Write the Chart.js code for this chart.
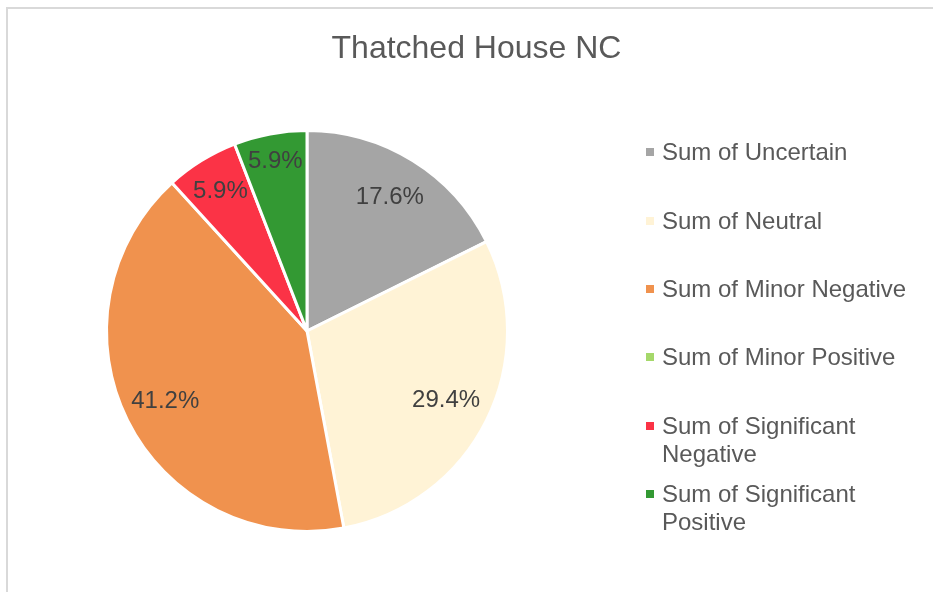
<!DOCTYPE html>
<html>
<head>
<meta charset="utf-8">
<script src="https://cdn.jsdelivr.net/npm/chart.js@4/dist/chart.umd.min.js"></script>
<style>
  html, body { margin: 0; padding: 0; background: #fff; overflow: hidden; }
  #wrap { position: relative; width: 933px; height: 592px; font-family: "Liberation Sans", Arial, sans-serif; }
  #frame { position: absolute; left: 6px; top: 7px; width: 1000px; height: 1000px; border: 2px solid #d9d9d9; box-sizing: border-box; }
  #title { position: absolute; left: 0; top: 27px; width: 953px; text-align: center; font-size: 32px; color: #595959; line-height: 40px; }
  #chart { position: absolute; left: 0; top: 0; }
  .item { position: absolute; left: 646px; font-size: 24px; line-height: 28px; color: #595959; }
  .item .sw { position: absolute; left: 0; top: 10px; width: 8px; height: 8px; }
  .item .tx { margin-left: 16px; width: 280px; white-space: nowrap; }
</style>
</head>
<body>
<div id="wrap">
  <div id="frame"></div>
  <canvas id="chart" width="933" height="592"></canvas>
  <div id="title"></div>
  <div id="legend"></div>
</div>
<script>
const chartTitle = "Thatched House NC";
const categories = [
  "Sum of Uncertain",
  "Sum of Neutral",
  "Sum of Minor Negative",
  "Sum of Minor Positive",
  "Sum of Significant Negative",
  "Sum of Significant Positive"
];
const counts = [3, 5, 7, 0, 1, 1];
const percentLabels = ["17.6%", "29.4%", "41.2%", "", "5.9%", "5.9%"];
const legendLines = [
  ["Sum of Uncertain"],
  ["Sum of Neutral"],
  ["Sum of Minor Negative"],
  ["Sum of Minor Positive"],
  ["Sum of Significant", "Negative"],
  ["Sum of Significant", "Positive"]
];
const sliceColors = ["#a5a5a5", "#fff3d6", "#f0924e", "#a5d86a", "#fb3346", "#339933"];

// distance of each percentage label from the centre, as a share of the radius
const labelRadius = [0.785, 0.775, 0.79, 0.8, 0.82, 0.86];
// legend row tops (px)
const legendTops = [138, 207, 275, 343, 412, 480];

document.getElementById("title").textContent = chartTitle;

const legendEl = document.getElementById("legend");
categories.forEach((c, i) => {
  const row = document.createElement("div");
  row.className = "item";
  row.style.top = legendTops[i] + "px";
  const sw = document.createElement("div");
  sw.className = "sw";
  sw.style.background = sliceColors[i];
  const tx = document.createElement("div");
  tx.className = "tx";
  tx.innerHTML = legendLines[i].join("<br>");
  row.appendChild(sw);
  row.appendChild(tx);
  legendEl.appendChild(row);
});

const sliceLabels = {
  id: "sliceLabels",
  afterDatasetsDraw(chart) {
    const ctx = chart.ctx;
    const meta = chart.getDatasetMeta(0);
    ctx.save();
    ctx.font = '24px "Liberation Sans", Arial, sans-serif';
    ctx.fillStyle = "#404040";
    ctx.textAlign = "center";
    ctx.textBaseline = "middle";
    meta.data.forEach((arc, i) => {
      const text = percentLabels[i];
      if (!text) return;
      const p = arc.getProps(["x", "y", "startAngle", "endAngle", "outerRadius"], true);
      const mid = (p.startAngle + p.endAngle) / 2;
      const r = p.outerRadius * labelRadius[i];
      ctx.fillText(text, p.x + Math.cos(mid) * r, p.y + Math.sin(mid) * r);
    });
    ctx.restore();
  }
};

new Chart(document.getElementById("chart"), {
  type: "pie",
  data: {
    labels: categories,
    datasets: [{
      data: counts,
      backgroundColor: sliceColors,
      borderColor: "#ffffff",
      borderWidth: 3
    }]
  },
  options: {
    responsive: false,
    animation: false,
    layout: { padding: { left: 105, right: 424, top: 129, bottom: 59 } },
    plugins: {
      legend: { display: false },
      title: { display: false },
      tooltip: { enabled: false }
    }
  },
  plugins: [sliceLabels]
});
</script>
</body>
</html>
